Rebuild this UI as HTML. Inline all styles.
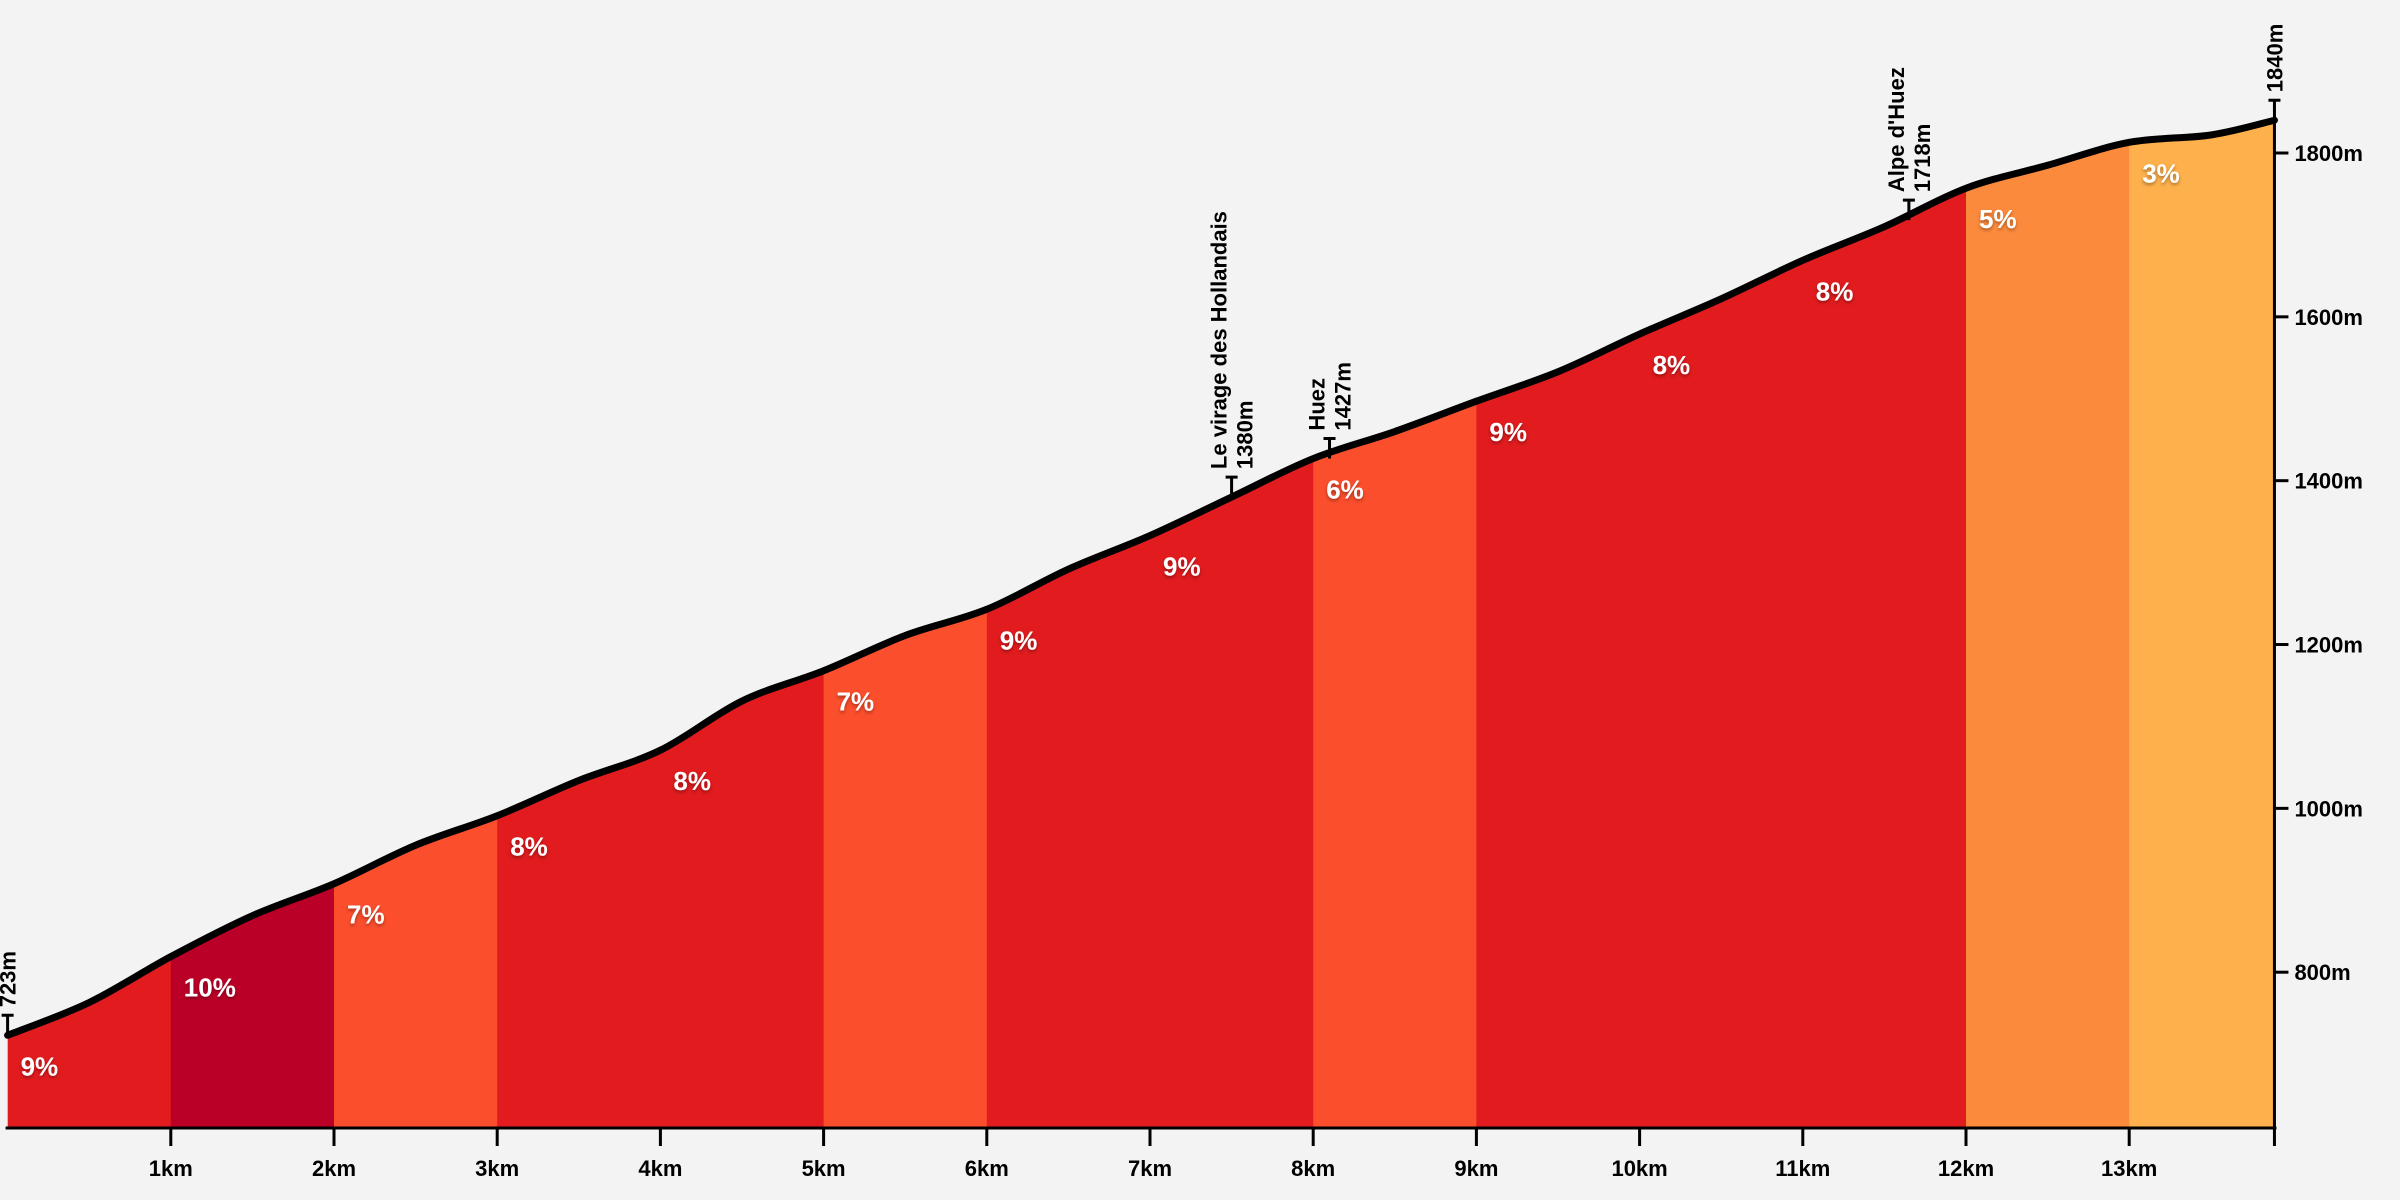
<!DOCTYPE html>
<html><head><meta charset="utf-8"><style>
html,body{margin:0;padding:0;background:#f3f3f3}
svg{display:block}
text{font-family:"Liberation Sans",sans-serif;font-weight:bold}
</style></head><body>
<svg id="chart" width="2400" height="1200" viewBox="0 0 2400 1200">
<rect width="2400" height="1200" fill="#f3f3f3"/>
<g id="g"></g>
</svg>
<script>
const distances=[0,0.5,1,1.5,2,2.5,3,3.5,4,4.5,5,5.5,6,6.5,7,7.5,8,8.5,9,9.5,10,10.5,11,11.5,12,12.5,13,13.5,13.89];
const elevations=[723,763,819,869,908,955,991,1034,1071,1131,1168,1211,1243,1292,1333,1380,1427,1460,1497,1533,1579,1622,1669,1710,1757,1785,1813,1822,1840];
const gradientLabels=["9%","10%","7%","8%","8%","7%","9%","9%","6%","9%","8%","8%","5%","3%"];
const gradientValues=[9,10,7,8,8,7,9,9,6,9,8,8,5,3];
const kmTicks=[1,2,3,4,5,6,7,8,9,10,11,12,13];
const elevTicks=[800,1000,1200,1400,1600,1800];
const markerKm=[0,7.5,8.1,11.65,13.89];
const markerNames=["","Le virage des Hollandais","Huez","Alpe d'Huez",""];
const markerElev=[723,1380,1427,1718,1840];

const NS="http://www.w3.org/2000/svg";
const g=document.getElementById('g');
const X=km=>7.6+163.2*km;
const Y=e=>153+(1800-e)*0.8192;
const baseY=1128, endKm=distances[distances.length-1];
function mk(t,a){const el=document.createElementNS(NS,t);for(const k in a)el.setAttribute(k,a[k]);g.appendChild(el);return el;}
function elevAt(km){for(let i=1;i<distances.length;i++){if(km<=distances[i]){const t=(km-distances[i-1])/(distances[i]-distances[i-1]);return elevations[i-1]+t*(elevations[i]-elevations[i-1]);}}return elevations[elevations.length-1];}
function colorFor(p){return p>=10?"#bb0027":p>=8?"#e11b1e":p>=6?"#fb4e2c":p>=4?"#fc8a3c":"#fdb04b";}
// smooth path
const pts=distances.map((d,i)=>[X(d),Y(elevations[i])]);
let d="M"+pts[0][0]+","+pts[0][1];
for(let i=0;i<pts.length-1;i++){const p0=pts[Math.max(0,i-1)],p1=pts[i],p2=pts[i+1],p3=pts[Math.min(pts.length-1,i+2)];
d+=" C"+(p1[0]+(p2[0]-p0[0])/6)+","+(p1[1]+(p2[1]-p0[1])/6)+" "+(p2[0]-(p3[0]-p1[0])/6)+","+(p2[1]-(p3[1]-p1[1])/6)+" "+p2[0]+","+p2[1];}
const defs=document.createElementNS(NS,'defs');g.appendChild(defs);
const cp=document.createElementNS(NS,'clipPath');cp.setAttribute('id','area');defs.appendChild(cp);
const ap=document.createElementNS(NS,'path');ap.setAttribute('d',d+" L"+X(endKm)+","+baseY+" L"+X(0)+","+baseY+" Z");cp.appendChild(ap);
const flt=document.createElementNS(NS,'filter');flt.setAttribute('id','sh');flt.innerHTML='<feDropShadow dx="0" dy="2" stdDeviation="1.5" flood-color="#000" flood-opacity="0.35"/>';defs.appendChild(flt);
gradientValues.forEach((v,i)=>{const x0=X(i),x1=X(Math.min(i+1,endKm));
const r=mk('rect',{x:x0,y:0,width:x1-x0+0.5,height:baseY,fill:colorFor(v),'clip-path':'url(#area)'});


const t=mk('text',{x:x0+13,y:Y(elevAt(i))+40,fill:'#fff','font-size':26,filter:'url(#sh)'});t.textContent=gradientLabels[i];

});
const line=mk('path',{d:d,fill:'none',stroke:'#000','stroke-width':7,'stroke-linejoin':'round','stroke-linecap':'round'});


// axes
const xa=mk('line',{x1:X(0)-2,y1:baseY,x2:X(endKm)+2,y2:baseY,stroke:'#000','stroke-width':3});


kmTicks.forEach(k=>{const l=mk('line',{x1:X(k),y1:baseY,x2:X(k),y2:baseY+18,stroke:'#000','stroke-width':3});


const t=mk('text',{x:X(k),y:baseY+48,'text-anchor':'middle','font-size':22,fill:'#000'});t.textContent=k+"km";

});
const ye=mk('line',{x1:X(endKm),y1:baseY+18,x2:X(endKm),y2:Y(1840),stroke:'#000','stroke-width':3});


elevTicks.forEach(e=>{const l=mk('line',{x1:X(endKm),y1:Y(e),x2:X(endKm)+14,y2:Y(e),stroke:'#000','stroke-width':3});


const t=mk('text',{x:X(endKm)+20,y:Y(e)+8,'font-size':22,fill:'#000'});t.textContent=e+"m";

});
// markers
markerKm.forEach((k,i)=>{const x=X(k),y=Y(markerElev[i]);const top=y-20;
const l=mk('path',{d:"M"+x+","+y+" V"+top+" M"+(x-6)+","+top+" H"+(x+6),stroke:'#000','stroke-width':3,fill:'none'});


const lines=markerNames[i]?[markerNames[i],markerElev[i]+"m"]:[markerElev[i]+"m"];
const off=lines.length===2?-13:0;
lines.forEach((s,j)=>{const tx=x+off+j*26+8,ty=top-8;
const t=mk('text',{x:tx,y:ty,transform:"rotate(-90 "+tx+" "+ty+")",'font-size':22,fill:'#000'});t.textContent=s;

});});
</script>
</body></html>
